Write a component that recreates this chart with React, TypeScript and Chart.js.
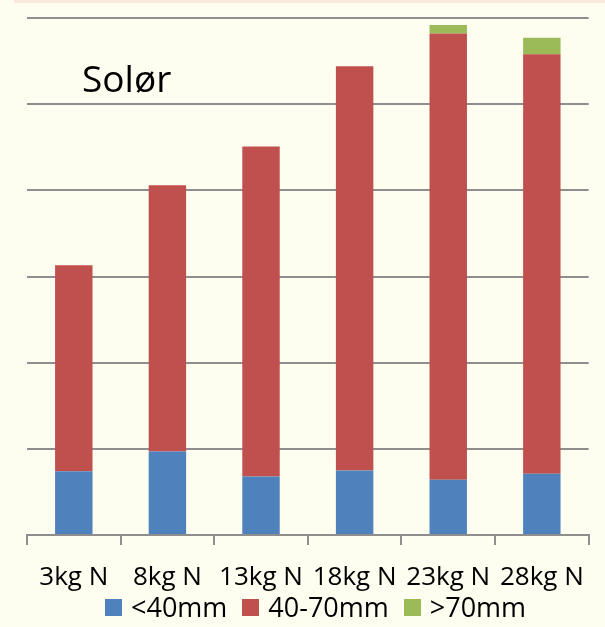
import React, { useEffect, useRef } from "react";
import { Chart, registerables } from "chart.js";

Chart.register(...registerables);

const categories = ["3kg N", "8kg N", "13kg N", "18kg N", "23kg N", "28kg N"];
const seriesNames = ["<40mm", "40-70mm", ">70mm"];
const under40 = [0.74, 0.97, 0.68, 0.75, 0.64, 0.71];
const mid40to70 = [2.39, 3.09, 3.83, 4.69, 5.18, 4.87];
const over70 = [0, 0, 0, 0, 0.1, 0.19];
const colors = ["#4F81BD", "#C0504D", "#9BBB59"];
const titleText = "Solør";

const FONT = "'Open Sans', 'Noto Sans', sans-serif";
const GRID = "#8e8e8e";

const titlePlugin = {
  id: "innerTitle",
  afterDraw(chart: any) {
    const ctx = chart.ctx;
    ctx.save();
    ctx.fillStyle = "#000";
    ctx.font = `37px ${FONT}`;
    ctx.textBaseline = "middle";
    ctx.textAlign = "left";
    ctx.fillText(titleText, 82, 81);
    ctx.restore();
  },
};

export default function App() {
  const ref = useRef<HTMLCanvasElement | null>(null);
  useEffect(() => {
    if (!ref.current) return;
    const values = [under40, mid40to70, over70];
    const chart = new Chart(ref.current, {
      type: "bar",
      data: {
        labels: categories,
        datasets: seriesNames.map((name, i) => ({
          label: name,
          data: values[i],
          backgroundColor: colors[i],
          borderWidth: 0,
          barPercentage: 0.4,
          categoryPercentage: 1,
        })),
      },
      options: {
        animation: false,
        responsive: true,
        maintainAspectRatio: false,
        layout: { padding: { left: 27, right: 15, top: 18, bottom: 16 } },
        plugins: {
          tooltip: { enabled: false },
          title: { display: false },
          legend: { display: false },
        },
        scales: {
          x: {
            stacked: true,
            grid: {
              offset: true,
              drawOnChartArea: false,
              drawTicks: true,
              tickLength: 10,
              color: GRID,
              lineWidth: 2,
            },
            border: { display: true, color: GRID, width: 2 },
            ticks: {
              color: "#000",
              font: { family: FONT, size: 26, lineHeight: 1 },
              autoSkip: false,
              maxRotation: 0,
              padding: 20,
            },
          },
          y: {
            stacked: true,
            min: 0,
            max: 6,
            ticks: { display: false, stepSize: 1 },
            grid: { color: GRID, lineWidth: 2, drawTicks: false },
            border: { display: false },
          },
        },
      },
      plugins: [titlePlugin],
    });
    return () => chart.destroy();
  }, []);

  return (
    <div
      style={{
        position: "fixed",
        left: 0,
        top: 0,
        width: 605,
        height: 627,
        background: "#FEFEF0",
      }}
    >
      <div
        style={{
          position: "absolute",
          left: 14,
          top: 0,
          width: 591,
          height: 3,
          background: "#FCE9DD",
        }}
      />
      <canvas ref={ref} />
      <div
        style={{
          position: "absolute",
          left: 105,
          top: 593,
          height: 28,
          display: "flex",
          alignItems: "center",
          fontFamily: FONT,
          fontSize: 27,
          lineHeight: "28px",
          color: "#000",
          whiteSpace: "nowrap",
        }}
      >
        {seriesNames.map((name, i) => (
          <div
            key={name}
            style={{
              display: "flex",
              alignItems: "center",
              marginRight: i < seriesNames.length - 1 ? 15 : 0,
            }}
          >
            <span
              style={{
                display: "inline-block",
                width: 17,
                height: 17,
                background: colors[i],
                marginRight: 9,
              }}
            />
            <span>{name}</span>
          </div>
        ))}
      </div>
    </div>
  );
}
